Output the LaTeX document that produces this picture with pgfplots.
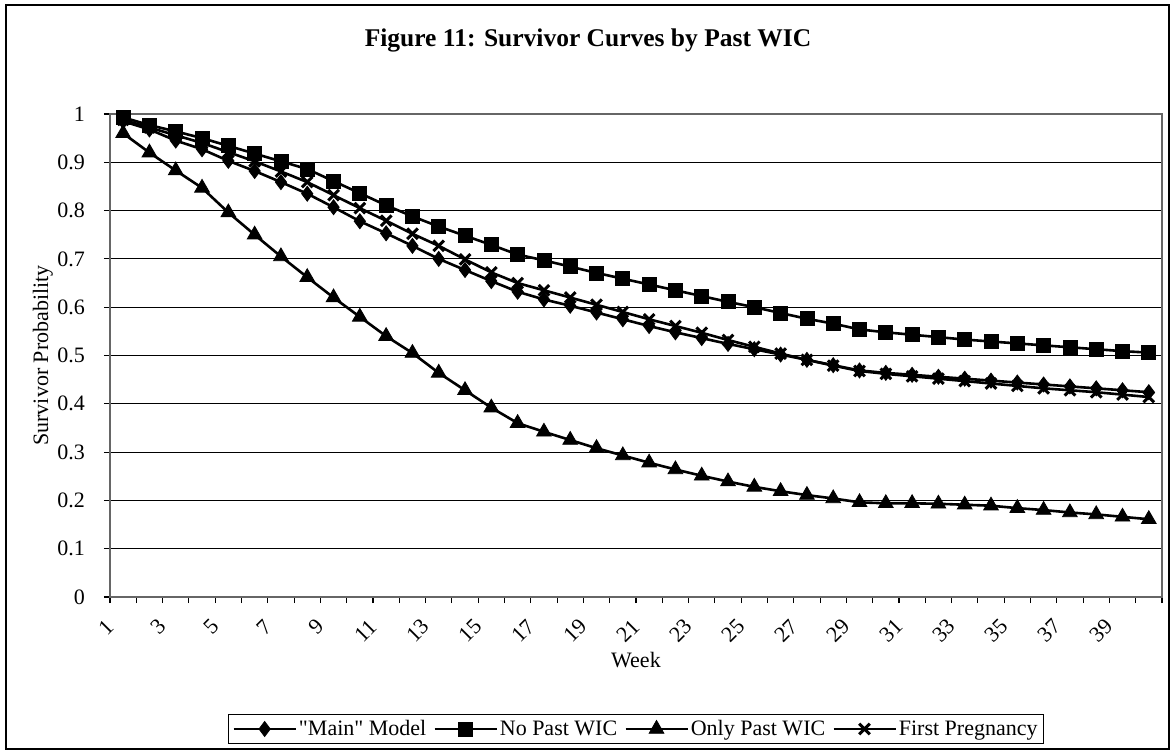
\documentclass[border=0pt]{standalone}
\usepackage{fontspec}
\setmainfont{Liberation Serif}[Ligatures=TeXOff]
\usepackage{pgfplots}
\pgfplotsset{compat=1.18}
\usepackage{pgfplotstable}

\pgfplotstableread{
week main nopast onlypast first
1 0.985 0.993 0.960 0.988
2 0.968 0.977 0.920 0.972
3 0.945 0.964 0.883 0.956
4 0.927 0.950 0.847 0.940
5 0.903 0.934 0.796 0.921
6 0.882 0.918 0.750 0.902
7 0.859 0.902 0.705 0.881
8 0.835 0.886 0.662 0.859
9 0.807 0.861 0.620 0.832
10 0.778 0.836 0.580 0.805
11 0.753 0.811 0.540 0.779
12 0.727 0.788 0.505 0.752
13 0.700 0.767 0.464 0.727
14 0.677 0.748 0.428 0.699
15 0.654 0.729 0.392 0.672
16 0.632 0.709 0.360 0.650
17 0.616 0.697 0.342 0.635
18 0.603 0.684 0.325 0.620
19 0.589 0.671 0.308 0.605
20 0.575 0.659 0.293 0.590
21 0.561 0.647 0.278 0.575
22 0.548 0.635 0.264 0.561
23 0.536 0.623 0.251 0.547
24 0.524 0.611 0.239 0.532
25 0.513 0.600 0.228 0.518
26 0.502 0.588 0.219 0.504
27 0.491 0.576 0.211 0.491
28 0.480 0.566 0.204 0.479
29 0.469 0.554 0.196 0.468
30 0.464 0.548 0.194 0.462
31 0.460 0.543 0.194 0.457
32 0.456 0.538 0.193 0.452
33 0.452 0.533 0.191 0.447
34 0.448 0.529 0.189 0.442
35 0.444 0.525 0.184 0.437
36 0.440 0.521 0.180 0.432
37 0.436 0.517 0.175 0.428
38 0.432 0.513 0.171 0.424
39 0.428 0.509 0.166 0.419
40 0.424 0.506 0.161 0.414
}\survtable

\newcommand{\lblfont}{\fontsize{22}{26}\selectfont}

\begin{document}
\begin{tikzpicture}
\path[use as bounding box] (0pt,0pt) rectangle (1176pt,753pt);
\draw[black, line width=1.2pt] (6pt,4pt) rectangle (1169pt,748pt);
\node[font=\bfseries\fontsize{25.5}{30}\selectfont] at (588pt,713pt) {Figure 11: Survivor Curves by Past WIC};
\begin{axis}[
  at={(110pt,156pt)}, anchor=south west,
  scale only axis, width=1052pt, height=483pt,
  xmin=0.5, xmax=40.5, ymin=0, ymax=1,
  xtick={1,3,5,7,9,11,13,15,17,19,21,23,25,27,29,31,33,35,37,39},
  minor xtick={0.5,1.5,...,40.5},
  ytick={0,0.1,0.2,0.3,0.4,0.5,0.6,0.7,0.8,0.9,1},
  yticklabels={0,0.1,0.2,0.3,0.4,0.5,0.6,0.7,0.8,0.9,1},
  minor ytick={0,0.1,0.2,0.3,0.4,0.5,0.6,0.7,0.8,0.9,1},
  major tick length=0pt, minor tick length=6pt,
  tick align=outside, tick pos=left,
  every tick/.style={black, line width=1.1pt},
  ymajorgrids, major grid style={black, line width=0.9pt},
  axis line style={draw=black!60, line width=1.3pt},
  /pgf/number format/assume math mode=true,
  ticklabel style={font=\lblfont},
  yticklabel style={anchor=east, inner sep=0pt, xshift=-25pt},
  xticklabel style={anchor=east, inner sep=0pt, xshift=-13pt, yshift=-26pt, rotate=45},
  xlabel={Week}, ylabel={Survivor Probability},
  every axis x label/.style={at={(axis description cs:0.5,-0.1304)}, anchor=center, font=\lblfont},
  every axis y label/.style={at={(axis description cs:-0.0637,0.5)}, anchor=center, rotate=90, font=\lblfont},
  legend style={at={(axis description cs:0.5,-0.2733)}, anchor=center, legend columns=4,
    draw=black, line width=1pt, font=\lblfont, inner sep=4pt,
    /tikz/every even column/.append style={column sep=5pt}},
  legend image code/.code={\draw[mark repeat=2,mark phase=2,#1] plot coordinates {(0pt,0pt) (31pt,0pt) (62pt,0pt)};},
]
\addplot[black, line width=2.6pt, mark=diamond*, mark size=7.5pt, mark options={solid, line width=0.8pt}] table[x=week,y=main]{\survtable};
\addlegendentry{"Main" Model}
\addplot[black, line width=2.6pt, mark=square*, mark size=7pt, mark options={solid, line width=0.8pt}] table[x=week,y=nopast]{\survtable};
\addlegendentry{No Past WIC}
\addplot[black, line width=2.6pt, mark=triangle*, mark size=8.5pt, mark options={solid, line width=0.8pt}] table[x=week,y=onlypast]{\survtable};
\addlegendentry{Only Past WIC}
\addplot[black, line width=2.6pt, mark=x, mark size=7.5pt, mark options={solid, line width=3pt}] table[x=week,y=first]{\survtable};
\addlegendentry{First Pregnancy}
\end{axis}
\end{tikzpicture}
\end{document}
